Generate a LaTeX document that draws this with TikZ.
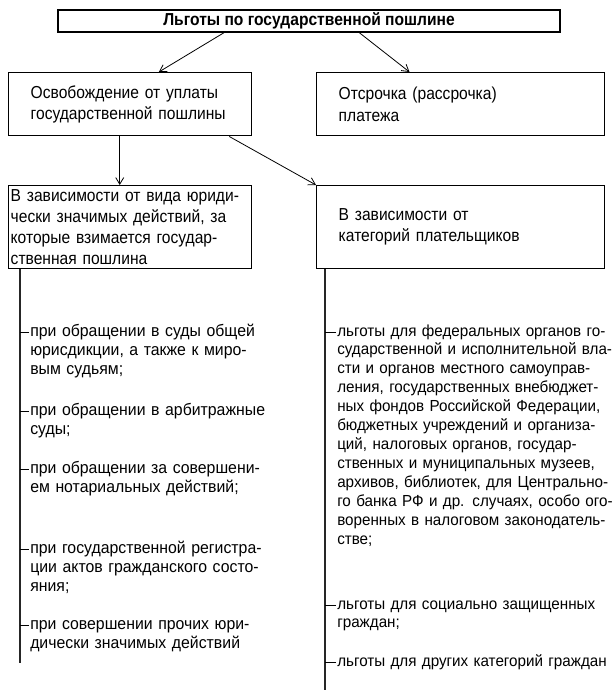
\documentclass[tikz,border=0pt]{standalone}
\usepackage{fontspec}
\setmainfont{Liberation Sans}[FakeStretch=0.9]
\newfontfamily\listfont{Liberation Sans}[FakeStretch=0.95]
\usetikzlibrary{arrows.meta,calc}
\newcommand{\jl}[1]{\makebox[\linewidth][s]{#1}\\}

\begin{document}
\begin{tikzpicture}[x=0.75pt, y=-0.75pt, >={Straight Barb[length=5pt,width=6pt]},
		box/.style={draw, line width=1.1pt, anchor=north west, inner ysep=0pt, inner xsep=16.5pt, text width=183pt, minimum height=47.25pt, align=left, font=\fontsize{13}{16}\selectfont},
		lowbox/.style={box, minimum height=62.25pt, font=\fontsize{13}{15.75}\selectfont},
		itemtext/.style={anchor=base west, inner sep=0pt, align=left},
		link/.style={->, line width=0.6pt},
		stem/.style={line width=1.3pt, black!85}]
	\useasboundingbox (0,0) rectangle (611,696);
	
	% Title
	\node[draw, line width=1.1pt, minimum width=376.5pt, minimum height=16.5pt, inner sep=0pt, font=\bfseries\fontsize{13}{15}\selectfont] (head) at (309,21) {Льготы по государственной пошлине};
	
	% Second row
	\node[box, text width=149.25pt] (free) at (8,72) {Освобождение от уплаты\\государственной пошлины};
	\node[box] (defer) at (316,72) {Отсрочка (рассрочка)\\платежа};
	
	% Third row
	\node[lowbox, inner xsep=1.5pt, text width=179.25pt] (byact) at (8,185) {\jl{В зависимости от вида юриди-}\jl{чески значимых действий, за}\jl{которые взимается государ-}ственная пошлина};
	\node[lowbox] (bypayer) at (316,185) {В зависимости от\\категорий плательщиков};
	
	% Arrows
	\draw[link] ($(head.south west)!0.331!(head.south east)$) -- ($(free.north west)!0.617!(free.north east)$);
	\draw[link] ($(head.south west)!0.6!(head.south east)$) -- ($(defer.north west)!0.323!(defer.north east)$);
	\draw[link] ($(free.south west)!0.457!(free.south east)$) -- ($(byact.north west)!0.457!(byact.north east)$);
	\draw[link] ($(free.south west)!0.905!(free.south east)$) -- (bypayer.north west);
	
	% Left list
	\coordinate (aend) at (20,663);
	\draw[stem] (byact.south -| aend) -- (aend);
	\begin{scope}[every node/.style={itemtext, text width=163.5pt, font=\listfont\fontsize{12.5}{14.25}\selectfont}]
		\node (a1) at (30,336) {\jl{при обращении в суды общей}\jl{юрисдикции, а также к миро-}вым судьям;};
		\node (a2) at (30,415) {\jl{при обращении в арбитражные}суды;};
		\node (a3) at (30,473) {\jl{при обращении за совершени-}ем нотариальных действий;};
		\node (a4) at (30,553) {\jl{при государственной регистра-}\jl{ции актов гражданского состо-}яния;};
		\node (a5) at (30,629) {\jl{при совершении прочих юри-}дически значимых действий};
	\end{scope}
	\foreach \i in {1,...,5}
	{
		\draw[thin] (a\i.base west) ++(-1,-4) -- ++(-9,0);
	}
	
	% Right list
	\coordinate (cend) at (325,690);
	\draw[stem] (bypayer.south -| cend) -- (cend);
	\begin{scope}[every node/.style={itemtext, text width=199.5pt, font=\listfont\fontsize{12}{14.2}\selectfont}]
		\node (c1) at (337,336) {\jl{льготы для федеральных органов го-}\jl{сударственной и исполнительной вла-}\jl{сти и органов местного самоуправ-}\jl{ления, государственных внебюджет-}\jl{ных фондов Российской Федерации,}\jl{бюджетных учреждений и организа-}\jl{ций, налоговых органов, государ-}\jl{ственных и муниципальных музеев,}\jl{архивов, библиотек, для Центрально-}\jl{го банка РФ и др. случаях, особо ого-}\jl{воренных в налоговом законодатель-}стве;};
		\node (c2) at (337,609) {\jl{льготы для социально защищенных}граждан;};
		\node (c3) at (337,666) {\makebox[\linewidth][s]{льготы для других категорий граждан}};
	\end{scope}
	\foreach \i in {1,...,3}
	{
		\draw[thin] (c\i.base west) ++(-1,-4) -- ++(-11,0);
	}
	
\end{tikzpicture}
\end{document}
